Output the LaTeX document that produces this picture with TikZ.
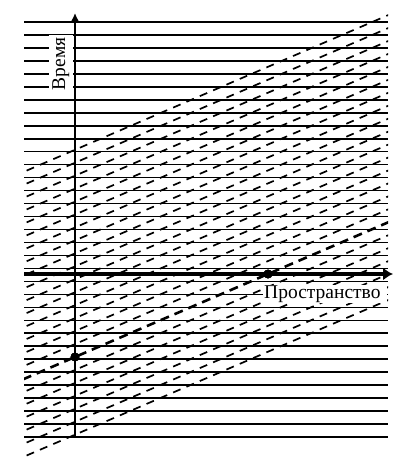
\documentclass[tikz,border=0pt]{standalone}
\usepackage{fontspec}
\setmainfont{Liberation Serif}
\usetikzlibrary{arrows.meta,calc}

\begin{document}
\begin{tikzpicture}[x=1pt,y=-1pt]
\tikzstyle{bullet} = [circle, fill, draw, inner sep=3pt]
\tikzstyle{grid line} = [line width=1.6pt]
\tikzstyle{world line} = [line width=1.7pt, dash pattern=on 8pt off 6.5pt]
\tikzstyle{light line} = [line width=2.6pt, dash pattern=on 9pt off 6pt]
\tikzstyle{axis label} = [fill=white, font=\fontsize{19.5}{20}\selectfont]
\useasboundingbox (0,0) rectangle (413,470);
\coordinate (O) at (75,274);
\coordinate (T) at (75,13);
\coordinate (B) at (75,437);
\coordinate (L) at (24,274);
\coordinate (R) at (393,274);
% horizontal lines
\foreach \k in {0,...,32}
  \draw[grid line] (24,22+12.97*\k) -- (388,22+12.97*\k);
\node[bullet] (p) at (75,357) {};
\node[bullet] (q) at (268,274) {};
% slanted dashed lines
\begin{scope}
\clip (24,0) rectangle (388,470);
\foreach \i in {-16,...,-1,1,2,...,6}
  \draw[world line] (0,357+12.95*\i+32.25) -- (413,357+12.95*\i-145.34);
\draw[light line] ($(p)!-0.27!(q)$) -- ($(q)!-0.63!(p)$);
\end{scope}
\node[axis label, anchor=base west, text width=122pt, inner xsep=1pt, inner ysep=1pt, align=left] (space) at (263,298.3) {Пространство};
\node[axis label, rotate=90, anchor=base, inner xsep=3pt, inner ysep=3.5pt] (time) at (65,64) {Время};
\draw[line width=2.5pt, -{Latex[length=9pt,width=9pt]}] (B) -- (T);
\draw[line width=4pt, -{Latex[length=10pt,width=13pt]}] (L) -- (R);
\node[bullet] at (p) {};
\node[bullet] at (q) {};
\end{tikzpicture}
\end{document}
